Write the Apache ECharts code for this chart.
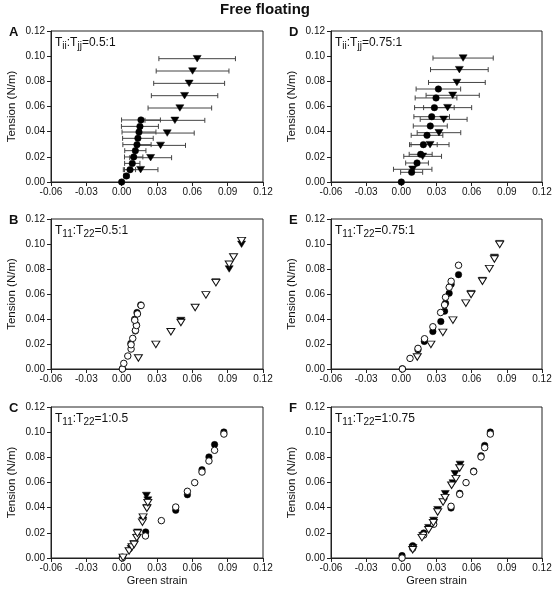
<!DOCTYPE html>
<html><head><meta charset="utf-8">
<script src="https://cdn.jsdelivr.net/npm/echarts@6/dist/echarts.min.js"></script>
<style>html,body{margin:0;padding:0;background:#fff}#c{width:560px;height:595px}</style>
</head><body><div id="c"></div>
<script>
// ---- Data (x = Green strain, y = Tension N/m) ----
// Panel A: mean with horizontal error bars
const aCircX = [0, 0.0040, 0.0071, 0.0090, 0.0102, 0.0116, 0.0130, 0.0138, 0.0147, 0.0155, 0.0164];
const aCircY = [0, 0.0048, 0.0098, 0.0148, 0.0199, 0.0249, 0.0297, 0.0347, 0.0397, 0.0442, 0.0493];
const aCircErr = [0, 0.0023, 0.0047, 0.0065, 0.0078, 0.0090, 0.0120, 0.0130, 0.0144, 0.0157, 0.0165];
const aTriX = [0.0161, 0.0246, 0.0330, 0.0387, 0.0452, 0.0494, 0.0534, 0.0573, 0.0602, 0.0641];
const aTriY = [0.0098, 0.0193, 0.0291, 0.0389, 0.0490, 0.0588, 0.0686, 0.0784, 0.0882, 0.0980];
const aTriErr = [0.0147, 0.0178, 0.0212, 0.0229, 0.0254, 0.0270, 0.0282, 0.0301, 0.0309, 0.0325];
// Panel D
const dCircX = [0, 0.0088, 0.0134, 0.0165, 0.0188, 0.0219, 0.0247, 0.0259, 0.0282, 0.0296, 0.0316];
const dCircY = [0, 0.0077, 0.0151, 0.0220, 0.0297, 0.0371, 0.0445, 0.0519, 0.0591, 0.0668, 0.0739];
const dCircErr = [0, 0.0094, 0.0097, 0.0098, 0.0118, 0.0135, 0.0145, 0.0152, 0.0169, 0.0178, 0.0190];
const dTriX = [0.0097, 0.0182, 0.0245, 0.0321, 0.0361, 0.0395, 0.0438, 0.0474, 0.0495, 0.0527];
const dTriY = [0.0101, 0.0204, 0.0297, 0.0392, 0.0498, 0.0591, 0.0689, 0.0791, 0.0893, 0.0985];
const dTriErr = [0.0164, 0.0161, 0.0162, 0.0186, 0.0200, 0.0205, 0.0227, 0.0242, 0.0246, 0.0257];
// Panel B
const bFillCirc = [[0.0008,0.0005],[0.0078,0.0205],[0.0116,0.0305],[0.0124,0.0355],[0.0110,0.0398],[0.0130,0.0452],[0.0162,0.0513]];
const bOpenCirc = [[0.0006,0],[0.0018,0.0045],[0.0052,0.0104],[0.0080,0.0160],[0.0080,0.0194],[0.0094,0.0245],[0.0117,0.0309],[0.0126,0.0348],[0.0111,0.0390],[0.0134,0.0441],[0.0165,0.0508]];
const bFillTri = [[0.0503,0.0388],[0.0800,0.0697],[0.0913,0.0800],[0.1018,0.0998]];
const bOpenTri = [[0.0142,0.0088],[0.0290,0.0197],[0.0418,0.0298],[0.0503,0.0372],[0.0624,0.0492],[0.0715,0.0593],[0.0800,0.0691],[0.0913,0.0838],[0.0950,0.0896],[0.1018,0.1027]];
// Panel E
const eFillCirc = [[0.0009,0.0002],[0.0142,0.0154],[0.0196,0.0221],[0.0269,0.0300],[0.0337,0.0380],[0.0369,0.0463],[0.0377,0.0527],[0.0408,0.0606],[0.0425,0.0678],[0.0488,0.0755]];
const eOpenCirc = [[0.0009,0],[0.0074,0.0085],[0.0142,0.0165],[0.0198,0.0242],[0.0269,0.0338],[0.0335,0.0452],[0.0369,0.0513],[0.0377,0.0574],[0.0408,0.0654],[0.0425,0.0702],[0.0488,0.0830]];
const eFillTri = [[0.0595,0.0603],[0.0692,0.0708],[0.0794,0.0893],[0.0839,0.1003]];
const eOpenTri = [[0.0136,0.0096],[0.0252,0.0197],[0.0354,0.0293],[0.0440,0.0391],[0.0550,0.0527],[0.0595,0.0596],[0.0692,0.0702],[0.0751,0.0803],[0.0794,0.0880],[0.0839,0.0997]];
// Panel C
const cFillCirc = [[0.0006,0.0008],[0.0204,0.0207],[0.0459,0.0379],[0.0558,0.0503],[0.0682,0.0702],[0.0741,0.0803],[0.0789,0.0901],[0.0868,0.1001]];
const cOpenCirc = [[0.0006,0],[0.0202,0.0175],[0.0337,0.0297],[0.0459,0.0405],[0.0558,0.0530],[0.0620,0.0599],[0.0682,0.0683],[0.0741,0.0771],[0.0789,0.0856],[0.0868,0.0985]];
const cFillTri = [[0.0080,0.0075],[0.0103,0.0113],[0.0134,0.0165],[0.0136,0.0205],[0.0180,0.0300],[0.0216,0.0400],[0.0222,0.0460],[0.0210,0.0497]];
const cOpenTri = [[0.0012,0.0005],[0.0063,0.0056],[0.0088,0.0087],[0.0106,0.0108],[0.0128,0.0162],[0.0134,0.0196],[0.0176,0.0285],[0.0182,0.0325],[0.0214,0.0395],[0.0222,0.0440]];
// Panel F
const fFillCirc = [[0.0006,0.0019],[0.0097,0.0098],[0.0191,0.0199],[0.0276,0.0294],[0.0424,0.0397],[0.0498,0.0514],[0.0617,0.0691],[0.0680,0.0813],[0.0711,0.0895],[0.0759,0.1001]];
const fOpenCirc = [[0.0006,0],[0.0097,0.0077],[0.0191,0.0183],[0.0276,0.0268],[0.0424,0.0411],[0.0498,0.0506],[0.0552,0.0599],[0.0617,0.0686],[0.0680,0.0803],[0.0711,0.0877],[0.0759,0.0985]];
const fFillTri = [[0.0100,0.0082],[0.0182,0.0178],[0.0233,0.0241],[0.0276,0.0299],[0.0310,0.0384],[0.0375,0.0511],[0.0441,0.0596],[0.0458,0.0670],[0.0501,0.0744]];
const fOpenTri = [[0.0097,0.0066],[0.0176,0.0162],[0.0233,0.0225],[0.0273,0.0281],[0.0310,0.0366],[0.0356,0.0445],[0.0373,0.0480],[0.0429,0.0578],[0.0466,0.0631],[0.0498,0.0715]];

const panelLetters = ['A','D','B','E','C','F'];
const panelLabels = [
  ['T','ii',':T','jj','=0.5:1'],
  ['T','ii',':T','jj','=0.75:1'],
  ['T','11',':T','22','=0.5:1'],
  ['T','11',':T','22','=0.75:1'],
  ['T','11',':T','22','=1:0.5'],
  ['T','11',':T','22','=1:0.75']
];
const titleText = 'Free floating';
const xName = 'Green strain';
const yName = 'Tension (N/m)';

// ---- Layout ----
const FONT = 'Liberation Sans, Arial, Helvetica, sans-serif';
const gridPos = [
  {left:51, top:31, width:212, height:151},
  {left:331, top:31, width:211, height:151},
  {left:51, top:219, width:212, height:150},
  {left:331, top:219, width:211, height:150},
  {left:51, top:407, width:212, height:151},
  {left:331, top:407, width:211, height:151}
];
const grids = gridPos.map(g => Object.assign({show:true, borderColor:'#222', borderWidth:1, backgroundColor:'transparent'}, g));
const xAxes = gridPos.map((g,i) => ({
  type:'value', gridIndex:i, min:-0.06, max:0.12, interval:0.03,
  name: i>=4 ? xName : '', nameLocation:'middle', nameGap:17,
  nameTextStyle:{fontFamily:FONT, fontSize:11, color:'#111'},
  axisLine:{show:true, onZero:false, lineStyle:{color:'#222', width:1}},
  axisTick:{show:true, inside:false, length:4, lineStyle:{color:'#222'}},
  axisLabel:{fontFamily:FONT, fontSize:10, color:'#111', margin:5, formatter:v=>v.toFixed(2)},
  splitLine:{show:false}
}));
const yAxes = gridPos.map((g,i) => ({
  type:'value', gridIndex:i, min:0, max:0.12, interval:0.02,
  name: yName, nameLocation:'middle', nameGap:33, nameRotate:90,
  nameTextStyle:{fontFamily:FONT, fontSize:11.5, color:'#111'},
  axisLine:{show:true, onZero:false, lineStyle:{color:'#222', width:1}},
  axisTick:{show:true, inside:false, length:4, lineStyle:{color:'#222'}},
  axisLabel:{fontFamily:FONT, fontSize:10, color:'#111', margin:6, formatter:v=>v.toFixed(2)},
  splitLine:{show:false}
}));

function zipErr(xs, ys, es){ return xs.map((x,i)=>[x, ys[i], es[i]]); }
function zip(xs, ys){ return xs.map((x,i)=>[x, ys[i]]); }

function errSeries(idx, data){
  return {
    type:'custom', xAxisIndex:idx, yAxisIndex:idx, data:data, z:1, clip:false,
    renderItem:function(params, api){
      const x=api.value(0), y=api.value(1), e=api.value(2);
      if(!e) return null;
      const p1=api.coord([x-e,y]), p2=api.coord([x+e,y]);
      const h=2.5, st={stroke:'#444', lineWidth:1};
      return {type:'group', children:[
        {type:'line', shape:{x1:p1[0],y1:p1[1],x2:p2[0],y2:p2[1]}, style:st},
        {type:'line', shape:{x1:p1[0],y1:p1[1]-h,x2:p1[0],y2:p1[1]+h}, style:st},
        {type:'line', shape:{x1:p2[0],y1:p2[1]-h,x2:p2[0],y2:p2[1]+h}, style:st}
      ]};
    }
  };
}
function sc(idx, data, kind, filled, z){
  const tri = kind==='tri';
  return {
    type:'scatter', xAxisIndex:idx, yAxisIndex:idx, data:data, z:z||3,
    symbol: tri ? 'triangle' : 'circle',
    symbolRotate: tri ? 180 : 0,
    symbolSize: tri ? [8,6.5] : 6.5,
    itemStyle: filled ? {color:'#000', borderColor:'#000', borderWidth:0.5, opacity:1}
                      : {color:'#fff', borderColor:'#111', borderWidth:1, opacity:1},
    emphasis:{disabled:true}, silent:true
  };
}

const series = [
  errSeries(0, zipErr(aTriX, aTriY, aTriErr)),
  errSeries(0, zipErr(aCircX, aCircY, aCircErr)),
  sc(0, zip(aTriX, aTriY), 'tri', true, 3),
  sc(0, zip(aCircX, aCircY), 'circ', true, 4),
  errSeries(1, zipErr(dTriX, dTriY, dTriErr)),
  errSeries(1, zipErr(dCircX, dCircY, dCircErr)),
  sc(1, zip(dTriX, dTriY), 'tri', true, 3),
  sc(1, zip(dCircX, dCircY), 'circ', true, 4),
  sc(2, bFillCirc, 'circ', true, 3), sc(2, bOpenCirc, 'circ', false, 4),
  sc(2, bFillTri, 'tri', true, 3), sc(2, bOpenTri, 'tri', false, 4),
  sc(3, eFillCirc, 'circ', true, 3), sc(3, eOpenCirc, 'circ', false, 4),
  sc(3, eFillTri, 'tri', true, 3), sc(3, eOpenTri, 'tri', false, 4),
  sc(4, cFillCirc, 'circ', true, 3), sc(4, cOpenCirc, 'circ', false, 4),
  sc(4, cFillTri, 'tri', true, 3), sc(4, cOpenTri, 'tri', false, 4),
  sc(5, fFillCirc, 'circ', true, 3), sc(5, fOpenCirc, 'circ', false, 4),
  sc(5, fFillTri, 'tri', true, 3), sc(5, fOpenTri, 'tri', false, 4)
];

const graphics = [
  {type:'text', left:220, top:2, style:{text:titleText, font:'bold 15px '+FONT, fill:'#111'}}
];
gridPos.forEach((g,i)=>{
  graphics.push({type:'text', x:g.left-42, y:g.top-5, style:{text:panelLetters[i], font:'bold 13px '+FONT, fill:'#111'}});
  const p = panelLabels[i];
  graphics.push({type:'text', x:g.left+4, y:g.top+3, style:{
    text:'{m|'+p[0]+'}{s|'+p[1]+'}{m|'+p[2]+'}{s|'+p[3]+'}{m|'+p[4]+'}',
    rich:{ m:{fontFamily:FONT, fontSize:12, fill:'#111'}, s:{fontFamily:FONT, fontSize:10, fill:'#111', padding:[7,0,0,0]} }
  }});
});

const chart = echarts.init(document.getElementById('c'), null, {renderer:'canvas'});
chart.setOption({
  animation:false, backgroundColor:'#fff',
  grid:grids, xAxis:xAxes, yAxis:yAxes, series:series, graphic:graphics
});
</script></body></html>
